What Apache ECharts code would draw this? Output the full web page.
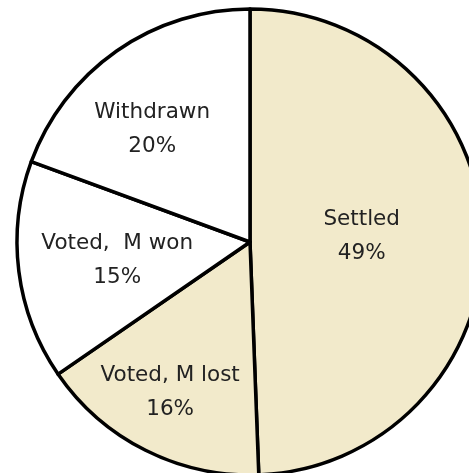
<!DOCTYPE html>
<html>
<head>
<meta charset="utf-8">
<script src="https://cdn.jsdelivr.net/npm/echarts@6/dist/echarts.min.js"></script>
<style>
html,body{margin:0;padding:0;background:#fff;}
#chart{width:469px;height:473px;}
</style>
</head>
<body>
<div id="chart"></div>
<script>
// Categories (clockwise from 12 o'clock)
var categories = ['Settled', 'Voted, M lost', 'Voted,  M won', 'Withdrawn'];
// Slice sizes as drawn in the picture (percent)
var sliceValues = [49.4, 16.0, 15.2, 19.4];
// Percent labels as printed on the chart
var pctLabels = ['49%', '16%', '15%', '20%'];

// Styling
var sliceColors = ['#F2EACB', '#F2EACB', '#FFFFFF', '#FFFFFF'];
var labelAngle = [87, 208, 262.3, 319];   // degrees clockwise from top
var labelDist = [0.48, 0.73, 0.575, 0.64]; // fraction of radius
var CX = 250, CY = 242, R = 233;

var chart = echarts.init(document.getElementById('chart'), null, {renderer: 'canvas'});
var data = categories.map(function (c, i) {
  return {
    name: c,
    value: sliceValues[i],
    itemStyle: {color: sliceColors[i]}
  };
});

chart.setOption({
  animation: false,
  backgroundColor: '#ffffff',
  series: [{
    type: 'pie',
    center: [CX, CY],
    radius: [0, R],
    startAngle: 90,
    clockwise: true,
    data: data,
    itemStyle: {borderColor: '#000', borderWidth: 3.5},
    label: {
      show: true,
      position: 'inside',
      fontFamily: 'DejaVu Sans',
      fontSize: 21.5,
      lineHeight: 34,
      color: '#222222',
      formatter: function (p) { return p.name + '\n' + pctLabels[p.dataIndex]; }
    },
    labelLine: {show: false},
    labelLayout: function (p) {
      var i = p.dataIndex;
      var a = labelAngle[i] * Math.PI / 180;
      var d = labelDist[i] * R;
      return {
        x: CX + Math.sin(a) * d,
        y: CY - Math.cos(a) * d,
        align: 'center',
        verticalAlign: 'middle'
      };
    },
    emphasis: {disabled: true}
  }]
});
</script>
</body>
</html>
